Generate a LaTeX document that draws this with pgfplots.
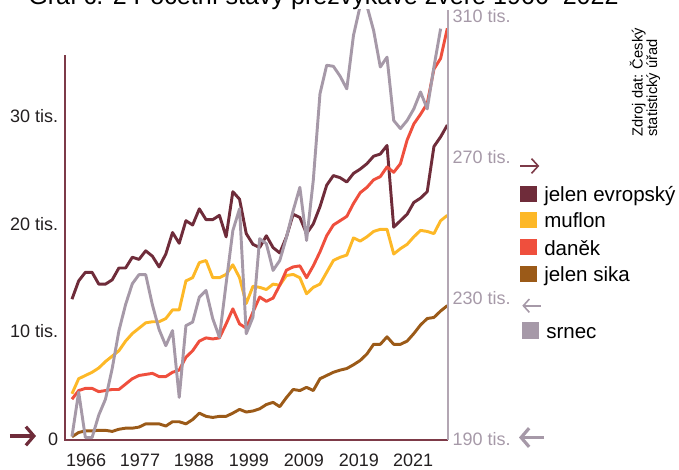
\documentclass[border=0pt]{standalone}
\usepackage{fontspec}
\setmainfont{Liberation Sans}
\usepackage{pgfplots}
\usepackage{pgfplotstable}
\pgfplotsset{compat=1.18}
\usetikzlibrary{arrows.meta}

\definecolor{cEvr}{HTML}{6F2C3A}
\definecolor{cMuf}{HTML}{FDB827}
\definecolor{cDan}{HTML}{EF4F3D}
\definecolor{cSika}{HTML}{9B5A18}
\definecolor{cSrn}{HTML}{A699A8}
\definecolor{cAxL}{HTML}{7D3A48}
\definecolor{cAxR}{HTML}{B3A6B3}
\definecolor{tickc}{HTML}{231F20}

\pgfplotstableread{
year evr muf dan sika
1966 13.0 4.2 3.7 0.2
1967 14.7 5.6 4.5 0.6
1968 15.5 5.9 4.7 0.75
1969 15.5 6.2 4.7 0.75
1970 14.4 6.6 4.4 0.8
1971 14.4 7.2 4.5 0.8
1972 14.8 7.7 4.6 0.7
1973 15.9 8.2 4.6 0.9
1974 15.9 9.1 5.1 1.0
1975 16.9 9.8 5.6 1.0
1976 16.7 10.3 5.9 1.1
1977 17.5 10.8 6.0 1.4
1978 17.0 10.9 6.1 1.4
1979 16.0 10.9 5.8 1.4
1980 17.2 11.2 5.8 1.2
1981 19.2 12.0 6.2 1.6
1982 18.2 12.0 6.4 1.6
1983 20.3 14.7 7.6 1.4
1984 19.9 15.0 8.2 1.8
1985 21.4 16.4 9.1 2.4
1986 20.4 16.6 9.4 2.1
1987 20.4 15.0 9.3 2.0
1988 20.8 15.0 9.4 2.1
1989 18.8 15.3 10.7 2.1
1990 23.0 16.2 12.1 2.4
1991 22.3 15.0 10.7 2.75
1992 19.1 12.6 10.3 2.5
1993 18.1 14.2 11.8 2.6
1994 17.8 14.1 13.2 2.8
1995 18.9 13.9 12.8 3.2
1996 17.8 14.4 13.1 3.4
1997 17.3 14.3 14.3 3.0
1998 18.8 15.2 15.7 3.85
1999 20.9 15.3 16.0 4.6
2000 20.6 15.0 16.1 4.5
2001 19.1 13.5 15.0 4.8
2002 20.0 14.1 16.1 4.5
2003 21.6 14.4 17.4 5.6
2004 23.6 15.5 18.9 5.9
2005 24.5 16.6 19.9 6.2
2006 24.3 16.9 20.3 6.4
2007 23.9 17.1 20.7 6.55
2008 24.7 18.7 21.9 6.9
2009 25.1 18.4 22.9 7.3
2010 25.6 18.8 23.4 7.9
2011 26.3 19.3 24.1 8.8
2012 26.5 19.5 24.4 8.8
2013 27.3 19.5 25.3 9.5
2014 19.7 17.2 24.8 8.8
2015 20.3 17.7 25.6 8.8
2016 20.9 18.1 27.8 9.1
2017 22.0 18.8 29.3 9.8
2018 22.4 19.4 30.2 10.6
2019 23.0 19.3 31.2 11.2
2020 27.2 19.1 34.4 11.3
2021 28.1 20.3 35.4 11.9
2022 29.2 20.8 38.2 12.4
}\datatab

\pgfplotstableread{
year v
1966 190.6
1967 203.2
1968 190.3
1969 190.3
1970 196.7
1971 201.2
1972 209.9
1973 220.6
1974 228.1
1975 234.0
1976 236.6
1977 236.6
1978 228.0
1979 221.0
1980 216.4
1981 220.7
1982 201.7
1983 222.1
1984 223.1
1985 230.2
1986 232.1
1987 224.1
1988 218.8
1989 234.1
1990 249.1
1991 255.3
1992 219.8
1993 224.5
1994 246.8
1995 245.4
1996 237.8
1997 240.6
1998 247.2
1999 254.8
2000 261.4
2001 246.3
2002 263.4
2003 288.0
2004 296.1
2005 295.8
2006 293.0
2007 289.4
2008 304.6
2009 313.0
2010 313.0
2011 306.0
2012 295.6
2013 298.4
2014 280.4
2015 278.1
2016 280.4
2017 283.7
2018 288.5
2019 283.7
2020 295.6
2021 306.5
}\srntab

\newcommand\tickfont{\fontsize{13.5}{14}\selectfont}
\newcommand\legfont{\fontsize{15.4}{16}\selectfont}

\begin{document}
\begin{tikzpicture}
\begin{axis}[
  at={(0,0)}, anchor=south west, scale only axis,
  width=287.25pt, height=322.5pt,
  xmin=1964.96, xmax=2022.1, ymin=-0.1, ymax=39.9,
  axis x line=bottom, axis y line=left,
  axis line style={draw=none},
  major tick length=0pt,
  xtick={1968.1,1976.15,1984.2,1992.4,2000.6,2008.8,2016.9},
  xticklabels={1966,1977,1988,1999,2009,2019,2021},
  ytick={0,10,20,30},
  yticklabels={0,10 tis.,20 tis.,30 tis.},
  tick label style={font=\tickfont, text=tickc},
  xticklabel style={anchor=north, inner sep=0pt, yshift=-10.3pt},
  yticklabel style={anchor=east, inner sep=0pt, xshift=-5pt},
  clip mode=individual,
]
\addplot[cEvr, line width=2.2pt, line join=round, no marks] table[x=year,y=evr]{\datatab};
\addplot[cMuf, line width=2.2pt, line join=round, no marks] table[x=year,y=muf]{\datatab};
\addplot[cDan, line width=2.2pt, line join=round, no marks] table[x=year,y=dan]{\datatab};
\addplot[cSika, line width=2.2pt, line join=round, no marks] table[x=year,y=sika]{\datatab};
\draw[cAxL, line width=1.1pt] (rel axis cs:0,0.895) -- (rel axis cs:0,0) -- (rel axis cs:1,0);
\end{axis}

\begin{axis}[
  at={(0,0)}, anchor=south west, scale only axis,
  width=287.25pt, height=322.5pt,
  xmin=1964.96, xmax=2022.1, ymin=189.6, ymax=311.8,
  axis y line*=right, axis x line=none,
  y axis line style={cAxR, line width=1.1pt, -},
  major tick length=0pt,
  ytick={190,230,270,310},
  yticklabels={190 tis.,230 tis.,270 tis.,310 tis.},
  yticklabel style={font=\tickfont, text=cSrn, anchor=west, inner sep=0pt, xshift=3.2pt},
  clip mode=individual,
]
\addplot[cSrn, line width=2.2pt, line join=round, no marks] table[x=year,y=v]{\srntab};
\end{axis}

\begin{scope}[x=0.75pt,y=-0.75pt,shift={(-65,-440)}]
  \node[anchor=base west, inner sep=0pt, font=\fontsize{18.8}{20}\selectfont] at (28,5) {Graf č. 2 Početní stavy přežvýkavé zvěře 1966–2022};
  % legend
  \fill[cEvr] (520,185.7) rectangle (536.7,201.7);
  \node[anchor=base west, inner sep=0pt, font=\legfont] at (544,201.7) {jelen evropský};
  \fill[cMuf] (520,211.7) rectangle (536.7,227.7);
  \node[anchor=base west, inner sep=0pt, font=\legfont] at (544,227.7) {muflon};
  \fill[cDan] (520,239) rectangle (536.7,255);
  \node[anchor=base west, inner sep=0pt, font=\legfont] at (544,255) {daněk};
  \fill[cSika] (520,265.7) rectangle (536.7,281.7);
  \node[anchor=base west, inner sep=0pt, font=\legfont] at (544,281.7) {jelen sika};
  \fill[cSrn] (522.3,322.3) rectangle (539,339);
  \node[anchor=base west, inner sep=0pt, font=\legfont] at (546,338.5) {srnec};
  % arrows
  \draw[cAxL, line width=1.2pt, -{Straight Barb[length=5pt,width=11pt]}] (520,166) -- (539.3,166);
  \draw[cSrn, line width=1.2pt, -{Straight Barb[length=4.5pt,width=10pt]}] (540.7,305.7) -- (522.3,305.7);
  \draw[cSrn, line width=2.4pt, -{Straight Barb[length=6pt,width=14pt]}] (544,437.5) -- (519,437.5);
  \draw[cEvr, line width=2.4pt, -{Straight Barb[length=6pt,width=14pt]}] (10,436) -- (36,436);
  % source
  \node[rotate=90, anchor=base west, inner sep=0pt, font=\fontsize{11}{12}\selectfont] at (642.5,136.7) {Zdroj dat: Český};
  \node[rotate=90, anchor=base west, inner sep=0pt, font=\fontsize{11}{12}\selectfont] at (657,136.7) {statistický úřad};
\end{scope}
\pgfresetboundingbox
\path[use as bounding box] (-48.75pt,-21.75pt) rectangle (460.5pt,330pt);
\end{tikzpicture}
\end{document}
